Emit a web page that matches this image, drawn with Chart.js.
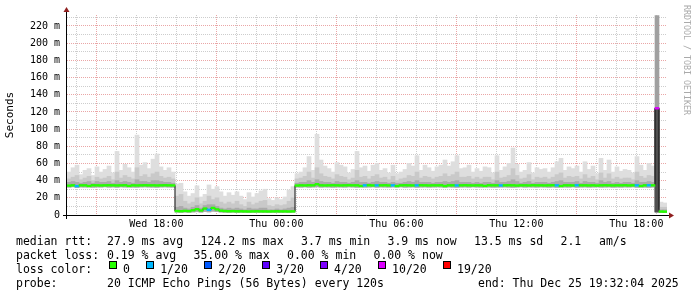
<!DOCTYPE html>
<html>
<head>
<meta charset="utf-8">
<script src="https://cdn.jsdelivr.net/npm/chart.js@4.4.1/dist/chart.umd.min.js"></script>
<style>
  html, body { margin: 0; padding: 0; background: #fff; }
  #wrap { position: relative; width: 697px; height: 297px; overflow: hidden; }
  #chart { position: absolute; left: 0; top: 0; }
  .t { position: absolute; font: 11.5px "DejaVu Sans Mono", monospace; line-height: 14px; color: #000; white-space: pre; }
  .box { position: absolute; width: 6px; height: 6px; border: 1px solid #000; }
  #mark { position: absolute; left: 682px; top: 5px; font: 8.3px "DejaVu Sans Mono", monospace; line-height: 10px; color: #aaa; writing-mode: vertical-rl; white-space: pre; }
</style>
</head>
<body>
<div id="wrap">
  <canvas id="chart" width="697" height="297"></canvas>
  <div id="legend"></div>
  <div id="mark">RRDTOOL / TOBI OETIKER</div>
</div>
<script>
// time axis: hours since Wed 00:00, one bin = 12 minutes
const startHour = 13.534;   // Wed 13:32:04
const endHour = 43.534;     // Thu 19:32:04
const binHours = 0.2;

// median rtt per bin (ms)
const medianRtt = [
  34.2, 34.5, 33.6, 34.5, 34.5, 33.7, 34.6, 34.5, 34.4, 34.5,
  34.6, 34.5, 34.4, 34.5, 34.6, 33.8, 34.5, 34.4, 34.5, 34.6,
  34.5, 34.5, 34.4, 34.5, 34.6, 34.5, 34.4, 4.6, 4.4, 4.8,
  4.5, 5.5, 6.8, 5.2, 7.5, 6.0, 8.2, 6.5, 5.0, 4.6,
  4.4, 4.5, 4.3, 4.3, 4.2, 4.1, 4.2, 4.3, 4.2, 4.2,
  4.1, 4.2, 4.3, 4.2, 4.2, 4.1, 4.2, 34.3, 34.5, 34.4,
  34.6, 34.5, 35.8, 34.5, 34.4, 34.5, 34.6, 34.5, 34.4, 34.5,
  34.6, 34.5, 34.5, 33.7, 34.5, 34.6, 34.4, 34.5, 34.5, 34.6,
  34.4, 34.5, 33.7, 34.5, 34.6, 34.5, 34.4, 34.5, 34.6, 34.5,
  34.4, 34.5, 34.5, 34.6, 33.7, 34.5, 34.5, 34.4, 34.5, 34.6,
  34.5, 34.4, 34.5, 34.5, 33.8, 34.6, 34.5, 34.5, 34.4, 34.5,
  34.6, 34.5, 34.3, 34.5, 34.5, 34.4, 34.6, 34.5, 34.5, 34.4,
  34.5, 34.6, 34.5, 33.7, 34.5, 34.5, 34.4, 34.6, 34.5, 34.5,
  34.4, 34.5, 34.3, 34.5, 34.6, 34.5, 34.4, 34.5, 34.5, 34.6,
  34.4, 34.5, 34.5, 33.7, 34.5, 34.6, 34.5, 124.2, 4.0, 3.9
];

// smoke (sorted pings) per bin: lowest, inner core top, middle top, highest (ms)
const smokeMin = [
  32.4, 32.8, 31.9, 32.6, 32.5, 32.7, 32.3, 32.6, 32.5, 32.8,
  32.4, 32.6, 32.2, 32.7, 32.5, 32.6, 32.4, 32.3, 32.6, 32.7,
  32.5, 32.4, 32.2, 32.6, 32.7, 32.5, 32.4, 3.3, 3.1, 3.4,
  3.2, 3.5, 3.8, 3.3, 4.1, 3.6, 4.4, 3.9, 3.4, 3.2,
  3.1, 3.3, 3.0, 3.2, 3.1, 3.0, 3.2, 3.1, 3.2, 3.0,
  3.1, 3.2, 3.1, 3.0, 3.2, 3.1, 3.3, 32.6, 32.4, 32.7,
  32.3, 32.5, 32.8, 32.4, 32.6, 32.5, 32.3, 32.6, 32.5, 32.4,
  32.7, 32.5, 32.2, 32.6, 32.4, 32.5, 32.7, 32.3, 32.6, 32.5,
  32.4, 32.6, 32.5, 32.7, 32.3, 32.5, 32.6, 32.2, 32.5, 32.6,
  32.4, 32.5, 32.7, 32.5, 32.3, 32.6, 32.4, 32.2, 32.5, 32.6,
  32.4, 32.7, 32.5, 32.4, 32.6, 32.5, 32.3, 32.4, 32.5, 32.6,
  32.4, 32.2, 32.5, 32.7, 32.4, 32.6, 32.5, 32.4, 32.6, 32.5,
  32.3, 32.5, 32.2, 32.6, 32.5, 32.4, 32.7, 32.3, 32.5, 32.6,
  32.4, 32.5, 32.7, 32.4, 32.5, 32.6, 32.3, 32.5, 32.4, 32.6,
  32.5, 32.7, 32.2, 32.5, 32.4, 32.2, 32.5, 3.5, 3.0, 2.9
];
const smokeCore = [
  38, 39, 38, 37, 38, 39, 37, 39, 38, 38,
  39, 37, 40, 38, 39, 38, 37, 41, 39, 39,
  38, 40, 40, 39, 38, 38, 37, 9, 10, 8,
  7, 9, 11, 8, 11, 12, 12, 10, 8, 7,
  8, 7, 8, 7, 6, 8, 7, 7, 8, 8,
  6, 6, 7, 6, 7, 8, 9, 37, 38, 38,
  40, 38, 41, 39, 38, 38, 37, 39, 38, 38,
  37, 38, 40, 38, 38, 37, 38, 39, 38, 38,
  37, 38, 37, 37, 38, 39, 38, 40, 38, 38,
  38, 37, 38, 38, 39, 38, 39, 40, 38, 38,
  38, 37, 38, 37, 38, 38, 37, 40, 38, 38,
  39, 41, 39, 37, 38, 39, 37, 38, 38, 38,
  37, 38, 39, 40, 38, 38, 38, 39, 37, 39,
  38, 38, 37, 40, 38, 39, 37, 38, 37, 38,
  38, 37, 40, 38, 38, 39, 38, 124, 6, 6
];
const smokeMid = [
  42, 44, 46, 41, 43, 45, 40, 44, 42, 43,
  45, 41, 50, 43, 46, 44, 42, 55, 45, 47,
  44, 48, 50, 45, 43, 44, 42, 22, 24, 16,
  13, 15, 20, 13, 16, 22, 18, 20, 15, 13,
  15, 13, 16, 12, 10, 15, 12, 14, 16, 17,
  11, 10, 12, 11, 12, 16, 20, 42, 43, 45,
  50, 43, 55, 48, 45, 44, 42, 47, 45, 44,
  41, 43, 52, 44, 45, 42, 45, 47, 43, 44,
  41, 45, 40, 42, 43, 46, 45, 50, 43, 45,
  44, 42, 44, 45, 48, 45, 47, 50, 44, 44,
  45, 42, 44, 42, 44, 44, 41, 50, 43, 44,
  46, 54, 46, 42, 43, 47, 41, 44, 43, 44,
  42, 44, 47, 49, 43, 45, 44, 45, 42, 47,
  43, 45, 41, 49, 43, 48, 42, 44, 42, 43,
  43, 41, 50, 45, 43, 46, 45, 124, 9, 9
];
const smokeMax = [
  50, 55, 58, 47, 52, 54, 46, 56, 50, 53,
  57, 49, 74, 52, 59, 55, 50, 93, 58, 61,
  54, 65, 71, 56, 52, 55, 50, 36, 37, 27,
  22, 25, 34, 21, 24, 35, 30, 33, 27, 22,
  26, 23, 27, 22, 18, 26, 21, 25, 28, 30,
  19, 17, 20, 18, 21, 29, 33, 48, 50, 55,
  68, 52, 94, 64, 57, 54, 50, 61, 58, 56,
  49, 53, 74, 55, 57, 51, 58, 60, 52, 54,
  49, 58, 48, 50, 53, 60, 57, 69, 52, 58,
  55, 51, 56, 58, 64, 57, 62, 69, 54, 55,
  58, 50, 54, 51, 56, 55, 49, 69, 52, 56,
  60, 78, 59, 50, 52, 61, 49, 55, 53, 54,
  50, 55, 62, 66, 52, 56, 54, 57, 50, 62,
  53, 57, 48, 66, 52, 64, 50, 56, 51, 53,
  52, 49, 68, 58, 52, 60, 57, 232, 15, 14
];

// lost pings (of 20) per bin
const lossCount = [
  0, 0, 1, 0, 0, 0, 0, 0, 0, 0,
  0, 0, 0, 0, 0, 0, 0, 0, 0, 0,
  0, 0, 0, 0, 0, 0, 0, 0, 0, 0,
  0, 0, 0, 0, 0, 1, 0, 0, 0, 0,
  0, 0, 0, 0, 0, 0, 0, 0, 0, 0,
  0, 0, 0, 0, 0, 0, 0, 0, 0, 0,
  0, 0, 0, 0, 0, 0, 0, 0, 0, 0,
  0, 0, 0, 0, 1, 0, 0, 1, 0, 0,
  0, 1, 0, 0, 0, 0, 0, 1, 0, 0,
  0, 0, 0, 0, 0, 0, 0, 1, 0, 0,
  0, 0, 0, 0, 0, 0, 0, 0, 1, 0,
  0, 0, 0, 0, 0, 0, 0, 0, 0, 0,
  0, 0, 1, 0, 0, 0, 0, 1, 0, 0,
  0, 0, 0, 0, 0, 0, 0, 0, 0, 0,
  0, 0, 1, 0, 0, 1, 0, 10, 0, 0
];

const lossLevels = [0, 1, 2, 3, 4, 10, 19];
const lossLabels = ['0', '1/20', '2/20', '3/20', '4/20', '10/20', '19/20'];
const lossColors = ['#26ff00', '#00b8ff', '#0059ff', '#5e00ff', '#7e00ff', '#dd00ff', '#ff0000'];

const yMax = 232.8;
const yTicks = [0, 10, 20, 30, 40, 50, 60, 70, 80, 90, 100, 110, 120, 130, 140, 150, 160, 170, 180, 190, 200, 210, 220, 230];
const xGridHours = [14, 15, 16, 17, 18, 19, 20, 21, 22, 23, 24, 25, 26, 27, 28, 29, 30, 31, 32, 33, 34, 35, 36, 37, 38, 39, 40, 41, 42, 43];
const xMajorHours = [15, 21, 27, 33, 39];
const xLabelHours = [18, 24, 30, 36, 42];
const xLabels = ['Wed 18:00', 'Thu 00:00', 'Thu 06:00', 'Thu 12:00', 'Thu 18:00'];

const FONT = 'DejaVu Sans Mono';
const minorGrid = '#cdcdcd';
const majorGrid = '#eaa6a6';
const lineHalf = 1.0;   // half thickness of the median band, ms

function binTime(i) {
    return startHour + (i + 0.5) * binHours;
}

function lossColor(n) {
    let c = lossColors[0];
    lossLevels.forEach((lv, k) => {
        if (n >= lv) c = lossColors[k];
    });
    return c;
}

function band(lo, hi) {
    return medianRtt.map((_, i) => ({ x: binTime(i), y: [lo[i], hi[i]] }));
}

// fewer answered pings -> darker smoke
function smokeColor(normal, heavy) {
    return ctx => lossCount[ctx.dataIndex] >= 10 ? heavy : normal;
}

/* ================= axes + arrows ================= */
const axesPlugin = {
    id: 'rrdAxes',
    afterDatasetsDraw(chart) {
        const { ctx, chartArea: a } = chart;
        ctx.save();
        ctx.lineWidth = 1;
        ctx.strokeStyle = '#000';
        ctx.beginPath();
        ctx.moveTo(a.left - 4, a.bottom + 0.5);
        ctx.lineTo(a.right + 3, a.bottom + 0.5);
        ctx.moveTo(a.left - 0.5, a.bottom + 4);
        ctx.lineTo(a.left - 0.5, a.top - 3);
        ctx.stroke();

        ctx.fillStyle = '#8f1f1f';
        ctx.beginPath();
        ctx.moveTo(a.left - 3.5, a.top - 3);
        ctx.lineTo(a.left + 2.5, a.top - 3);
        ctx.lineTo(a.left - 0.5, a.top - 8);
        ctx.closePath();
        ctx.fill();
        ctx.beginPath();
        ctx.moveTo(a.right + 2, a.bottom - 2.5);
        ctx.lineTo(a.right + 2, a.bottom + 3.5);
        ctx.lineTo(a.right + 7, a.bottom + 0.5);
        ctx.closePath();
        ctx.fill();
        ctx.restore();
    }
};

new Chart(document.getElementById('chart'), {
    type: 'bar',
    data: {
        datasets: [
            {
                label: 'median',
                data: medianRtt.map((v, i) => ({ x: binTime(i), y: [v - lineHalf, v + lineHalf] })),
                backgroundColor: medianRtt.map((_, i) => lossColor(lossCount[i])),
                order: 1
            },
            {
                type: 'line',
                label: 'median line',
                data: medianRtt.map((v, i) => ({ x: binTime(i), y: v })),
                borderColor: '#111',
                borderWidth: 1,
                pointRadius: 0,
                stepped: 'middle',
                order: 5
            },
            {
                label: 'core',
                data: band(smokeMin, smokeCore),
                backgroundColor: smokeColor('#ababab', '#505050'),
                order: 8
            },
            {
                label: 'mid',
                data: band(smokeMin, smokeMid),
                backgroundColor: smokeColor('#c9c9c9', '#5a5a5a'),
                order: 9
            },
            {
                label: 'max',
                data: band(smokeMin, smokeMax),
                backgroundColor: smokeColor('#dedede', '#a0a0a0'),
                order: 10
            }
        ]
    },
    options: {
        responsive: false,
        animation: false,
        devicePixelRatio: 1,
        layout: { padding: { left: 0, right: 30, top: 15, bottom: 0 } },
        plugins: {
            legend: { display: false },
            tooltip: { enabled: false }
        },
        datasets: {
            bar: { grouped: false, barPercentage: 1, categoryPercentage: 1, borderWidth: 0 }
        },
        scales: {
            x: {
                type: 'linear',
                min: startHour,
                max: endHour,
                offset: false,
                afterBuildTicks: s => { s.ticks = xGridHours.map(v => ({ value: v })); },
                afterFit: s => { s.height = 82; },
                grid: {
                    offset: false,
                    drawTicks: false,
                    lineWidth: 1,
                    color: c => xMajorHours.includes(c.tick.value) ? majorGrid : minorGrid
                },
                border: { display: false, dash: [1, 1] },
                ticks: {
                    autoSkip: false,
                    maxRotation: 0,
                    padding: 3,
                    color: '#000',
                    font: { family: FONT, size: 10 },
                    callback: v => {
                        const k = xLabelHours.indexOf(v);
                        return k >= 0 ? xLabels[k] : '';
                    }
                }
            },
            y: {
                min: 0,
                max: yMax,
                afterBuildTicks: s => { s.ticks = yTicks.map(v => ({ value: v })); },
                afterFit: s => { s.width = 67; },
                grid: {
                    drawTicks: false,
                    lineWidth: 1,
                    color: c => c.tick.value % 20 === 0 ? majorGrid : minorGrid
                },
                border: { display: false, dash: [1, 1] },
                title: {
                    display: true,
                    text: 'Seconds',
                    color: '#000',
                    font: { family: FONT, size: 11 },
                    padding: { top: 4, bottom: 0 }
                },
                ticks: {
                    autoSkip: false,
                    padding: 7,
                    color: '#000',
                    font: { family: FONT, size: 10 },
                    callback: v => v % 20 !== 0 ? '' : (v === 0 ? '0' : v + ' m')
                }
            }
        }
    },
    plugins: [axesPlugin]
});

/* ================= legend text ================= */
const legendRows = [
    { base: 244.5, items: [[16, 'median rtt:'], [107, '27.9 ms avg'], [200.5, '124.2 ms max'], [301, '3.7 ms min'], [387.5, '3.9 ms now'], [474, '13.5 ms sd'], [560.5, '2.1'], [599, 'am/s']] },
    { base: 258.5, items: [[16, 'packet loss:'], [107, '0.19 % avg'], [193.5, '35.00 % max'], [287, '0.00 % min'], [373.5, '0.00 % now']] },
    { base: 272.5, items: [[16, 'loss color:']] },
    { base: 286.5, items: [[16, 'probe:'], [107, '20 ICMP Echo Pings (56 Bytes) every 120s'], [478, 'end: Thu Dec 25 19:32:04 2025']] }
];
const lossBoxX = [109, 146.2, 204.2, 262.2, 320.1, 378.1, 443];

const legend = document.getElementById('legend');
function addText(x, base, text) {
    const d = document.createElement('div');
    d.className = 't';
    d.style.left = x + 'px';
    d.style.top = (base - 11) + 'px';
    d.textContent = text;
    legend.appendChild(d);
}
legendRows.forEach(r => r.items.forEach(([x, s]) => addText(x, r.base, s)));
lossLabels.forEach((s, k) => {
    const b = document.createElement('div');
    b.className = 'box';
    b.style.left = lossBoxX[k] + 'px';
    b.style.top = '261px';
    b.style.background = lossColors[k];
    legend.appendChild(b);
    addText(lossBoxX[k] + 14, 272.5, s);
});
</script>
</body>
</html>
